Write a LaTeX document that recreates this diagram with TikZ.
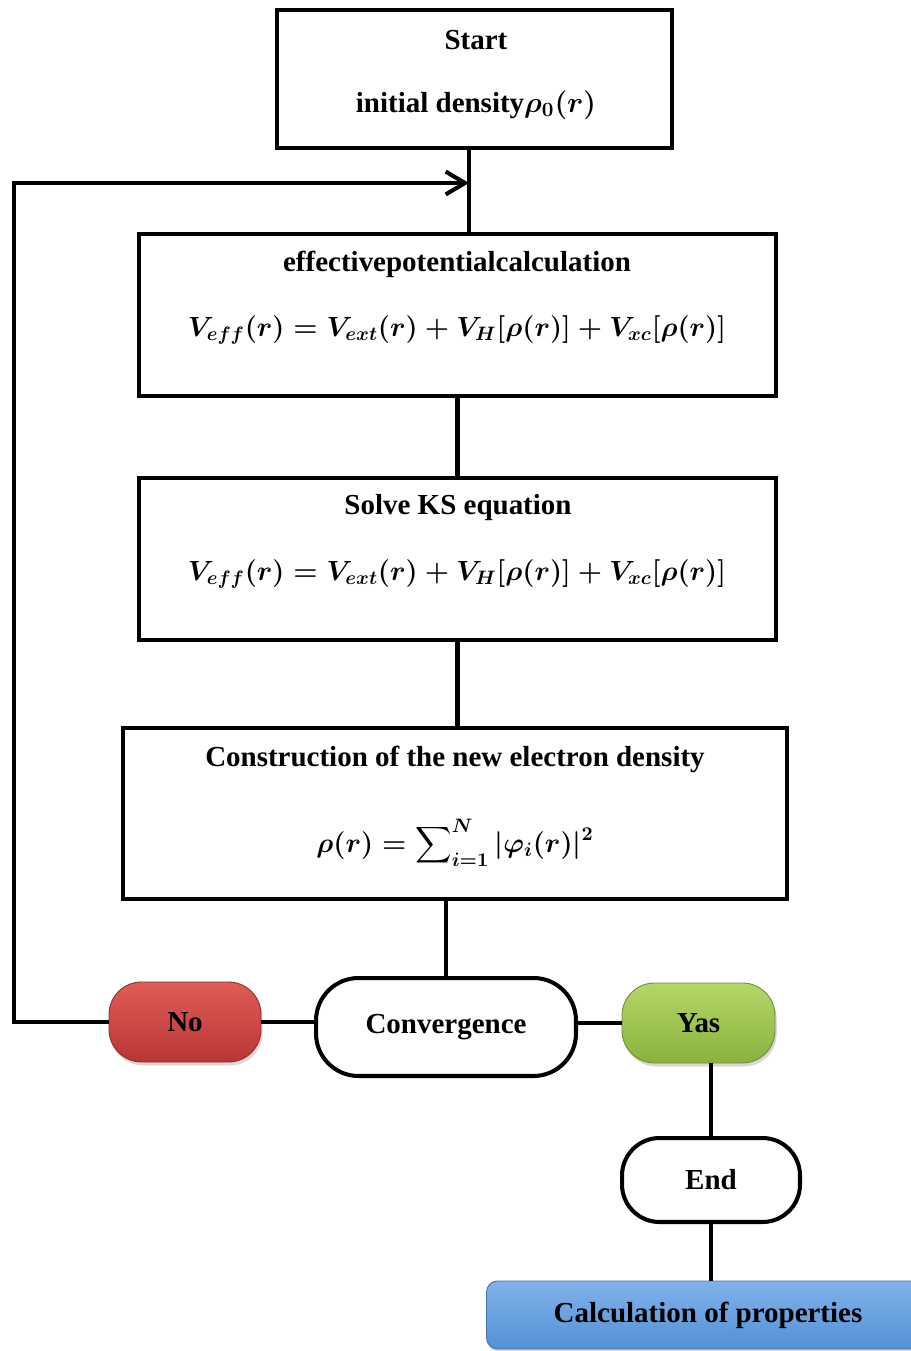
\RequirePackage{fix-cm}
\documentclass[tikz,border=0pt]{standalone}
\usepackage{amsmath,bm}
\usepackage{fontspec}
\setmainfont{Liberation Serif}
\usetikzlibrary{arrows.meta,shadows}

\definecolor{noTop}{RGB}{224,92,86}
\definecolor{noBot}{RGB}{184,54,52}
\definecolor{yesTop}{RGB}{180,214,104}
\definecolor{yesBot}{RGB}{138,178,62}
\definecolor{calcTop}{RGB}{128,178,234}
\definecolor{calcBot}{RGB}{84,144,214}

\begin{document}
\begin{tikzpicture}[x=.02cm,y=-.02cm,line width=2.3pt,
  >={Straight Barb[length=11pt,width=13pt]},
  font=\bfseries\fontsize{16.5}{20}\selectfont,
  box/.style={draw,rectangle,inner sep=0pt},
  pill/.style={draw,rectangle,rounded corners=.85cm,inner sep=0pt},
  btn/.style={rectangle,rounded corners=.65cm,inner sep=0pt,
    draw=#1Bot!80!black,line width=.5pt,top color=#1Top,bottom color=#1Bot,
    drop shadow={shadow xshift=1pt,shadow yshift=-2pt,opacity=.3}},
  eq/.style={font=\boldmath\fontsize{15.8}{19}\selectfont}]
  \useasboundingbox (0,0) rectangle (910,1351);

  % boxes of the loop
  \node[box,minimum width=7.9cm,minimum height=2.76cm] (start) at (474.5,79) {};
  \node (startA) at (476,40) {Start};
  \node (startB) at (476,105) {initial density$\bm{\rho_0(r)}$};

  \node[box,minimum width=12.74cm,minimum height=3.24cm] (pot) at (457.5,315) {};
  \node (potA) at (457,264) {effectivepotentialcalculation};
  \node[eq] (potB) at (457,330) {$V_{eff}(r)=V_{ext}(r)+V_H[\rho(r)]+V_{xc}[\rho(r)]$};

  \node[box,minimum width=12.74cm,minimum height=3.24cm] (ks) at (457.5,559) {};
  \node (ksA) at (458,508) {Solve KS equation};
  \node[eq] (ksB) at (457,574) {$V_{eff}(r)=V_{ext}(r)+V_H[\rho(r)]+V_{xc}[\rho(r)]$};

  \node[box,minimum width=13.28cm,minimum height=3.42cm] (dens) at (455,813.5) {};
  \node (densA) at (455,759) {Construction of the new electron density};
  \node[eq] (densB) at (455,843)
    {$\rho(r)=\displaystyle\sum\nolimits_{i=1}^{N}|\varphi_i(r)|^2$};

  % decision
  \node[pill,minimum width=5.2cm,minimum height=1.96cm] (conv) at (446,1027) {Convergence};
  \node[btn=no,minimum width=3.04cm,minimum height=1.6cm] (no) at (185,1022) {No};
  \node[btn=yes,minimum width=3.06cm,minimum height=1.6cm] (yes) at (698.5,1023) {Yas};
  \node[pill,rounded corners=.75cm,minimum width=3.56cm,minimum height=1.68cm] (end) at (711,1180) {End};
  \node[btn=calc,rounded corners=.22cm,minimum width=8.86cm,minimum height=1.36cm] (calc) at (708,1315)
    {Calculation of properties};

  % connectors
  \coordinate (join) at (469,183);
  \coordinate (back) at (14,183);
  \draw (start.south -| join) -- (join |- pot.north);
  \draw[->] (no.west) -| (back) -- (join);
  \draw (pot.south) -- (pot.south |- ks.north);
  \draw (ks.south) -- (ks.south |- dens.north);
  \draw (conv.north |- dens.south) -- (conv.north);
  \draw (no.east) -- (no.east -| conv.west);
  \draw (yes.west) -- (yes.west -| conv.east);
  \draw (end.north |- yes.south) -- (end.north);
  \draw (end.south) -- (end.south |- calc.north);
\end{tikzpicture}
\end{document}
